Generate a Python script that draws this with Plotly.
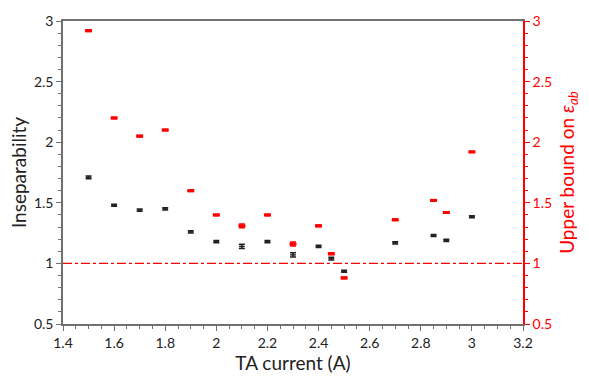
import plotly.graph_objects as go

x_black = [1.5, 1.6, 1.7, 1.8, 1.9, 2.0, 2.1, 2.2, 2.3, 2.4, 2.45, 2.5, 2.7, 2.85, 2.9, 3.0]
y_black = [1.71, 1.48, 1.44, 1.45, 1.26, 1.18, 1.14, 1.18, 1.07, 1.14, 1.04, 0.935, 1.17, 1.23, 1.19, 1.385]
e_black = [0.012, 0.008, 0.009, 0.009, 0.01, 0.009, 0.018, 0.009, 0.018, 0.009, 0.011, 0.009, 0.009, 0.009, 0.009, 0.009]

x_red = [1.5, 1.6, 1.7, 1.8, 1.9, 2.0, 2.1, 2.2, 2.3, 2.4, 2.45, 2.5, 2.7, 2.85, 2.9, 3.0]
y_red = [2.92, 2.20, 2.05, 2.10, 1.60, 1.40, 1.31, 1.40, 1.16, 1.31, 1.08, 0.88, 1.36, 1.52, 1.42, 1.92]
e_red = [0.007, 0.006, 0.007, 0.006, 0.006, 0.006, 0.016, 0.006, 0.016, 0.007, 0.008, 0.007, 0.006, 0.006, 0.006, 0.006]

x_ticks = [1.4, 1.6, 1.8, 2.0, 2.2, 2.4, 2.6, 2.8, 3.0, 3.2]
x_ticklabels = ["1.4", "1.6", "1.8", "2", "2.2", "2.4", "2.6", "2.8", "3", "3.2"]
y_ticks = [0.5, 1.0, 1.5, 2.0, 2.5, 3.0]
y_ticklabels = ["0.5", "1", "1.5", "2", "2.5", "3"]

FONT = "Lato"
GRAY = "#707070"
RED = "#ff0000"

fig = go.Figure()
fig.add_trace(go.Scatter(
    x=x_black, y=y_black, mode="markers",
    marker=dict(symbol="line-ew", size=4, line=dict(width=1.5, color="#222222"), color="#222222"),
    error_y=dict(type="data", array=e_black, visible=True, color="#222222", thickness=1.5, width=3),
    showlegend=False, yaxis="y",
))
fig.add_trace(go.Scatter(
    x=x_red, y=y_red, mode="markers",
    marker=dict(symbol="line-ew", size=5, line=dict(width=3, color=RED), color=RED),
    error_y=dict(type="data", array=e_red, visible=True, color=RED, thickness=1.5, width=3),
    showlegend=False, yaxis="y2",
))

fig.add_shape(type="line", xref="x", yref="y", x0=1.4, x1=3.2, y0=1, y1=1,
              line=dict(color=RED, width=1.2, dash="dashdot"))

fig.update_layout(
    width=589, height=378,
    margin=dict(l=63, r=66, t=15, b=52),
    paper_bgcolor="white", plot_bgcolor="white",
    font=dict(family=FONT, size=14, color="#222222"),
    xaxis=dict(
        range=[1.4, 3.2], tickvals=x_ticks, ticktext=x_ticklabels,
        showgrid=False, zeroline=False,
        showline=True, linecolor=GRAY, linewidth=1.5, mirror=True,
        ticks="outside", ticklen=5, tickcolor=GRAY, tickwidth=1,
        minor=dict(dtick=0.05, tick0=1.4, ticks="outside", ticklen=3, tickcolor=GRAY),
        tickfont=dict(family=FONT, size=14, color="#222222"),
        title=dict(text="TA current (A)", font=dict(family=FONT, size=19, color="#222222"), standoff=2),
    ),
    yaxis=dict(
        range=[0.5, 3.0], tickvals=y_ticks, ticktext=y_ticklabels,
        showgrid=False, zeroline=False,
        showline=True, linecolor=GRAY, linewidth=1.5,
        ticks="outside", ticklen=5, tickcolor=GRAY, tickwidth=1,
        minor=dict(dtick=0.1, tick0=0.5, ticks="outside", ticklen=3, tickcolor=GRAY),
        tickfont=dict(family=FONT, size=14, color="#222222"),
        title=dict(text="Inseparability", font=dict(family=FONT, size=19, color="#222222"), standoff=2),
    ),
    yaxis2=dict(
        range=[0.5, 3.0], tickvals=y_ticks, ticktext=y_ticklabels,
        overlaying="y", side="right",
        showgrid=False, zeroline=False,
        showline=True, linecolor=RED, linewidth=1.5,
        ticks="outside", ticklen=5, tickcolor=RED, tickwidth=1,
        minor=dict(dtick=0.1, tick0=0.5, ticks="outside", ticklen=3, tickcolor=RED),
        tickfont=dict(family=FONT, size=14, color=RED),
        title=dict(text="Upper bound on <i>ε</i><sub><i>ab</i></sub>", font=dict(family=FONT, size=19, color=RED), standoff=10),
    ),
)

fig.write_html("out.html")
